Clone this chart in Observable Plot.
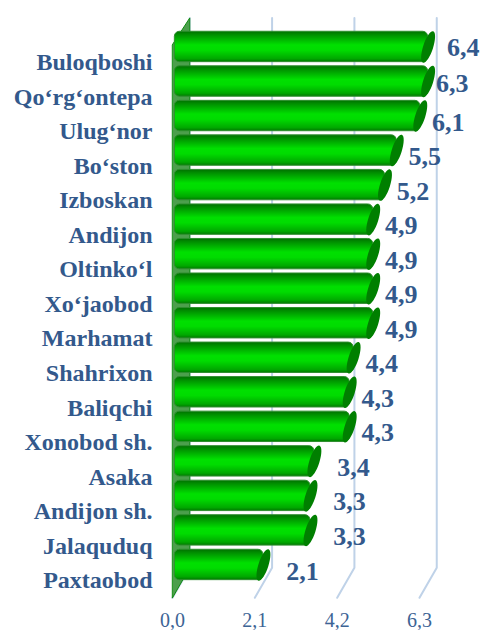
<!DOCTYPE html>
<html>
<head>
<meta charset="utf-8">
<script src="https://cdn.jsdelivr.net/npm/d3@7"></script>
<script src="https://cdn.jsdelivr.net/npm/@observablehq/plot@0.6"></script>
<style>html,body{margin:0;padding:0;background:#fff}svg{display:block}</style>
</head>
<body>
<div id="chart"></div>
<script>
const districts = ["Buloqboshi","Qo‘rg‘ontepa","Ulug‘nor","Bo‘ston","Izboskan","Andijon","Oltinko‘l","Xo‘jaobod","Marhamat","Shahrixon","Baliqchi","Xonobod sh.","Asaka","Andijon sh.","Jalaquduq","Paxtaobod"];
const values = [6.4,6.3,6.1,5.5,5.2,4.9,4.9,4.9,4.9,4.4,4.3,4.3,3.4,3.3,3.3,2.1];
const axisTicks = [0,2.1,4.2,6.3];
const axisMax = 6.3;

const comma = v => v.toFixed(1).replace(".", ",");
const rows = districts.map((name, i) => ({name, row: i, value: values[i], shown: Math.min(values[i], axisMax)}));

// 3D box depth and layout, in scale units
const depthX = 0.44, depthY = 0.87;
const rowTop = -0.52, rowBottom = 15.5;
const barShiftX = 0.22, barShiftY = 0.45, barHalf = 0.44;

const gridPaths = axisTicks.flatMap(t => [
  {t, x: t, y: rowBottom, o: 0},
  {t, x: t + depthX, y: rowBottom - depthY, o: 1},
  {t, x: t + depthX, y: rowTop - depthY + 0.1, o: 2}
]);
const wall = [
  {x: 0, y: rowTop},
  {x: depthX, y: rowTop - depthY + 0.1},
  {x: depthX, y: rowBottom - depthY},
  {x: 0, y: rowBottom}
];
const labelGap = d => d.row === 0 ? 0.48 : d.row === 1 ? 0.2 : d.value < 3.5 ? 0.58 : 0.30;
const labelRow = d => d.row === 0 ? d.row - 0.44 : d.row === 1 ? d.row - 0.4 : d.row - 0.27;

const capSymbol = {
  draw(ctx) {
    // slanted ellipse, built from four Bezier arcs
    const a = 16.5, b = 5, th = -72 * Math.PI / 180, k = 0.5523;
    const c = Math.cos(th), s = Math.sin(th);
    const P = (u, v) => [u * c - v * s, u * s + v * c];
    ctx.moveTo(...P(a, 0));
    ctx.bezierCurveTo(...P(a, k * b), ...P(k * a, b), ...P(0, b));
    ctx.bezierCurveTo(...P(-k * a, b), ...P(-a, k * b), ...P(-a, 0));
    ctx.bezierCurveTo(...P(-a, -k * b), ...P(-k * a, -b), ...P(0, -b));
    ctx.bezierCurveTo(...P(k * a, -b), ...P(a, -k * b), ...P(a, 0));
    ctx.closePath();
  }
};

function defs() {
  const ns = "http://www.w3.org/2000/svg";
  const d = document.createElementNS(ns, "defs");
  const g = document.createElementNS(ns, "linearGradient");
  g.setAttribute("id", "cyl");
  g.setAttribute("x1", "0"); g.setAttribute("y1", "0");
  g.setAttribute("x2", "0"); g.setAttribute("y2", "1");
  [[0, "#007000"], [0.1, "#008c00"], [0.45, "#00e000"], [0.62, "#00dc00"], [0.9, "#00a800"], [1, "#007a00"]].forEach(([o, c]) => {
    const s = document.createElementNS(ns, "stop");
    s.setAttribute("offset", o);
    s.setAttribute("stop-color", c);
    g.appendChild(s);
  });
  d.appendChild(g);
  return d;
}

const chart = Plot.plot({
  width: 483,
  height: 630,
  marginLeft: 152,
  marginRight: 0,
  marginTop: 0,
  marginBottom: 30,
  style: {background: "#fff", overflow: "visible"},
  x: {domain: [0, axisMax], range: [172, 419]},
  y: {domain: [0, 15], range: [62, 580]},
  marks: [
    defs,
    Plot.line(gridPaths, {x: "x", y: "y", z: "t", stroke: "#bfd2e8", strokeWidth: 2, curve: "linear"}),
    Plot.line(wall, {x: "x", y: "y", fill: "#4c9f4c", stroke: "#0f8a0f", strokeWidth: 1, curve: "linear-closed"}),
    Plot.axisX({ticks: axisTicks, tickFormat: comma, tickSize: 0, tickPadding: 12, anchor: "bottom", label: null,
      fontSize: 20, fontFamily: "Liberation Serif", fill: "#3d6495"}),
    Plot.axisY({ticks: rows.map(d => d.row), tickFormat: i => districts[i], tickSize: 0, tickPadding: 0, anchor: "left", label: null,
      fontSize: 24, fontWeight: "bold", fontFamily: "Liberation Serif", fill: "#33598c"}),
    Plot.rect(rows, {
      x1: () => 0.06,
      x2: d => d.shown + barShiftX,
      y1: d => d.row - barShiftY - barHalf,
      y2: d => d.row - barShiftY + barHalf,
      fill: "url(#cyl)", stroke: "#2f8f2f", strokeWidth: 1, rx: 5
    }),
    Plot.dot(rows, {
      x: d => d.shown + barShiftX,
      y: d => d.row - barShiftY,
      symbol: capSymbol,
      fill: "#007f00"
    }),
    Plot.text(rows, {
      x: d => d.shown + barShiftX + labelGap(d),
      y: labelRow,
      text: d => comma(d.value),
      textAnchor: "start",
      fontSize: 26,
      fontWeight: "bold",
      fontFamily: "Liberation Serif",
      fill: "#33598c"
    })
  ]
});
document.getElementById("chart").appendChild(chart);
</script>
</body>
</html>
